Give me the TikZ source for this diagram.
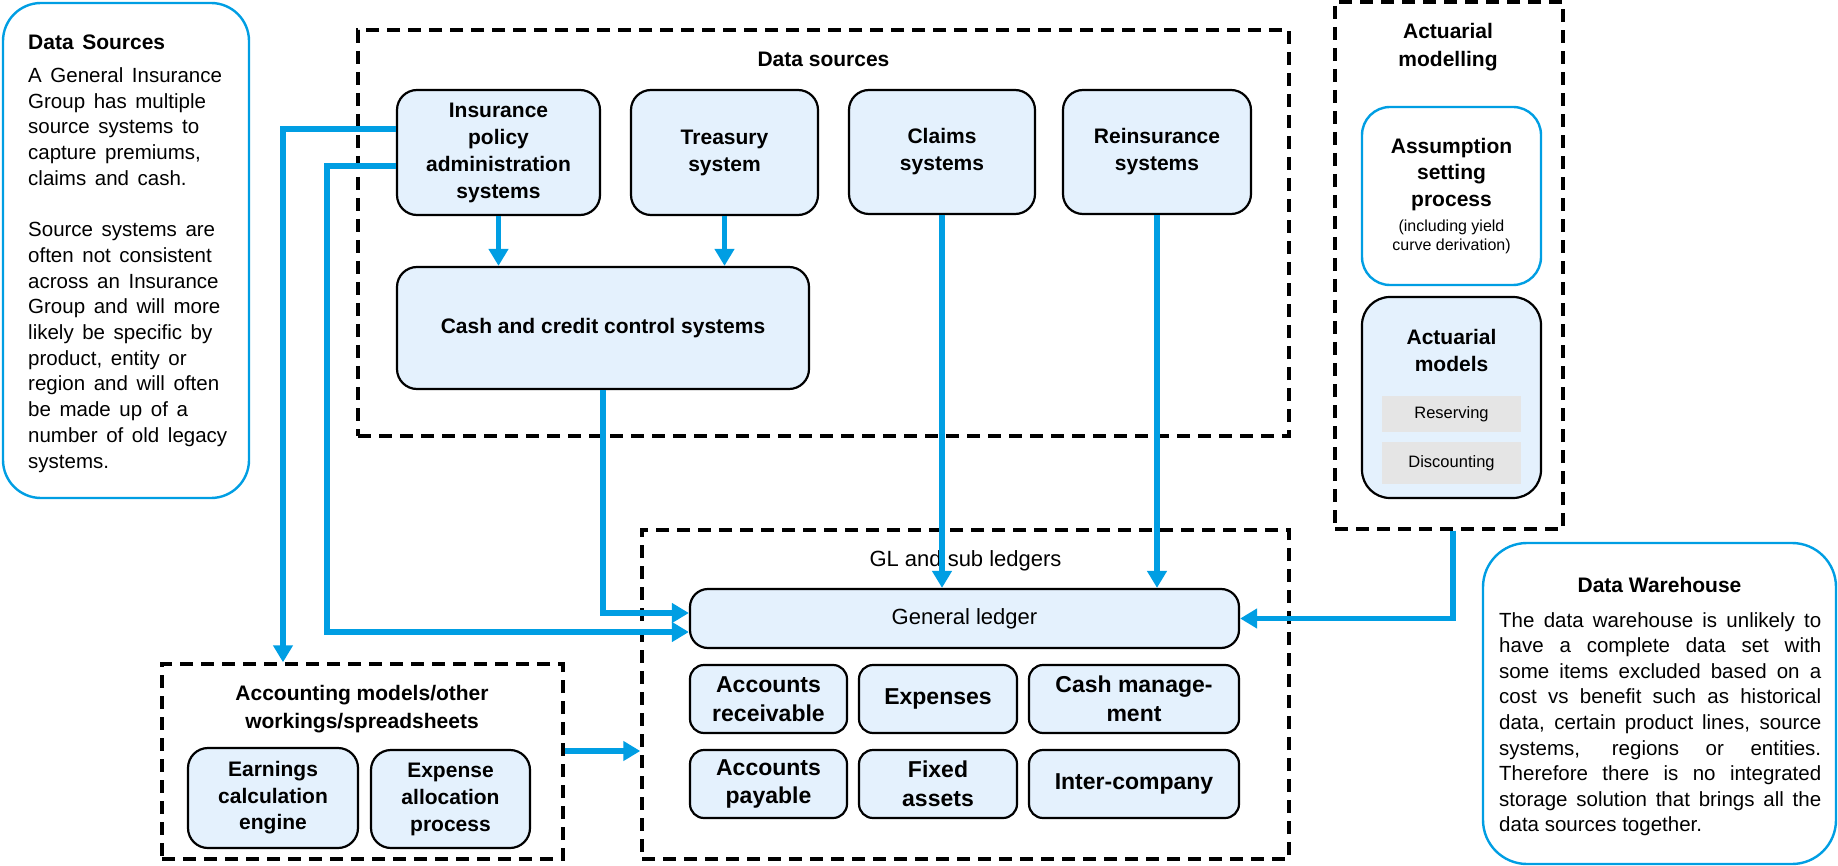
\documentclass[tikz,border=0pt]{standalone}
\usepackage{fontspec}
\setmainfont{Liberation Sans}
\usetikzlibrary{arrows.meta,calc}

\definecolor{flowblue}{RGB}{0,158,227}
\definecolor{boxfill}{RGB}{228,241,253}
\definecolor{tilegray}{RGB}{229,229,229}

% slightly wider word spaces for the note text
\newcommand\widewordspace{\spaceskip 0.42em\relax}

\tikzset{
  sysbox/.style={draw=black, line width=2.2pt, fill=boxfill, rounded corners=20pt,
    inner sep=0pt, align=center, font=\fontsize{21}{27}\selectfont\bfseries},
  ledgerbox/.style={sysbox, rounded corners=14pt, font=\fontsize{23}{28.5}\selectfont\bfseries},
  notebox/.style={draw=flowblue, line width=2.4pt, fill=white, rounded corners=38pt, inner sep=0pt},
  groupbox/.style={draw=black, line width=3.4pt, dash pattern=on 13pt off 8pt, inner sep=0pt},
  grouptitle/.style={font=\fontsize{21}{28}\selectfont\bfseries, align=center, inner sep=0pt},
  tile/.style={fill=tilegray, inner sep=0pt, font=\fontsize{16.5}{20}\selectfont},
  notetext/.style={inner sep=0pt, align=left,
    font=\fontsize{20.5}{25.7}\selectfont\widewordspace},
  flow/.style={draw=flowblue, line width=5.5pt, line join=miter,
    -{Triangle[length=17pt,width=19pt]}},
}

\begin{document}
\begin{tikzpicture}[x=1pt,y=-1pt]
\useasboundingbox (0,0) rectangle (1838,866);

% ---------- left note: data sources ----------
\node[notebox, minimum width=246pt, minimum height=495pt] (lnote) at (126,250.5) {};
\node[notetext, anchor=north west] (ltext) at (28,34.7) {%
  {\fontsize{21}{25.7}\selectfont\bfseries Data Sources}\\[7.3pt]
  A General Insurance\\
  Group has multiple\\
  source systems to\\
  capture premiums,\\
  claims and cash.\\[25.7pt]
  Source systems are\\
  often not consistent\\
  across an Insurance\\
  Group and will more\\
  likely be specific by\\
  product, entity or\\
  region and will often\\
  be made up of a\\
  number of old legacy\\
  systems.};

% ---------- data sources group ----------
\node[groupbox, minimum width=931pt, minimum height=406pt] (ds) at (823.5,233) {};
\node[grouptitle] (dst) at (823.5,59) {Data sources};
\node[sysbox, minimum width=203pt, minimum height=125pt] (ins) at (498.5,152.5)
  {Insurance\\policy\\administration\\systems};
\node[sysbox, minimum width=187pt, minimum height=125pt] (tre) at (724.5,152.5)
  {Treasury\\system};
\node[sysbox, minimum width=186pt, minimum height=124pt] (cla) at (942,152)
  {Claims\\systems};
\node[sysbox, minimum width=188pt, minimum height=124pt] (rei) at (1157,152)
  {Reinsurance\\systems};
\node[sysbox, minimum width=412pt, minimum height=122pt] (cash) at (603,328)
  {Cash and credit control systems};

% ---------- actuarial modelling group ----------
\node[groupbox, minimum width=228pt, minimum height=527pt] (am) at (1449,265.5) {};
\node[grouptitle] (amt) at (1448,47) {Actuarial\\modelling};
\node[notebox, rounded corners=28pt, minimum width=179pt, minimum height=178pt] (asm) at (1451.5,196) {};
\node[grouptitle, font=\fontsize{21}{26.5}\selectfont\bfseries] (asmt) at (1451.5,174.5)
  {Assumption\\setting\\process};
\node[inner sep=0pt, align=center, font=\fontsize{16}{19}\selectfont] (asms) at (1451.5,236.5)
  {(including yield\\curve derivation)};
\node[sysbox, rounded corners=28pt, minimum width=179pt, minimum height=201pt] (amod) at (1451.5,397.5) {};
\node[grouptitle, font=\fontsize{21}{27}\selectfont\bfseries] (amodt) at (1451.5,350.5)
  {Actuarial\\models};
\node[tile, minimum width=139pt, minimum height=36pt] (res) at (1451.5,414) {Reserving};
\node[tile, minimum width=139pt, minimum height=42pt] (disc) at (1451.5,463) {Discounting};

% ---------- GL and sub ledgers group ----------
\node[groupbox, minimum width=647pt, minimum height=329pt] (gld) at (965.5,694.5) {};
\node[inner sep=0pt, font=\fontsize{22}{26}\selectfont] (gldt) at (965.5,561) {GL and sub ledgers};
\node[sysbox, rounded corners=18pt, font=\fontsize{22}{26}\selectfont,
  minimum width=549pt, minimum height=59pt] (gl) at (964.5,618.5) {General ledger};
\node[ledgerbox, minimum width=157pt, minimum height=68pt] (ar) at (768.5,699) {Accounts\\receivable};
\node[ledgerbox, minimum width=158pt, minimum height=68pt] (exs) at (938,699) {Expenses};
\node[ledgerbox, minimum width=210pt, minimum height=68pt] (cm) at (1134,699) {Cash manage-\\ment};
\node[ledgerbox, minimum width=157pt, minimum height=68pt] (ap) at (768.5,784) {Accounts\\payable};
\node[ledgerbox, minimum width=158pt, minimum height=68pt] (fa) at (938,784) {Fixed\\assets};
\node[ledgerbox, minimum width=210pt, minimum height=68pt] (ic) at (1134,784) {Inter-company};

% ---------- accounting models group ----------
\node[groupbox, minimum width=401pt, minimum height=195pt] (acc) at (362.5,761.5) {};
\node[grouptitle] (acct) at (362,709) {Accounting models/other\\workings/spreadsheets};
\node[sysbox, minimum width=170pt, minimum height=100pt, font=\fontsize{21}{26.5}\selectfont\bfseries]
  (earn) at (273,798) {Earnings\\calculation\\engine};
\node[sysbox, minimum width=159pt, minimum height=98pt, font=\fontsize{21}{27}\selectfont\bfseries]
  (expa) at (450.5,799) {Expense\\allocation\\process};

% ---------- right note: data warehouse ----------
\node[notebox, rounded corners=44pt, minimum width=353pt, minimum height=321pt] (dw) at (1659.5,703.5) {};
\node[inner sep=0pt, font=\fontsize{21}{25}\selectfont\bfseries] (dwt) at (1659.5,585) {Data Warehouse};
\node[inner sep=0pt, align=left, anchor=north west, font=\fontsize{20.5}{25.6}\selectfont] (dwtext) at (1499,612) {%
  \makebox[322pt][s]{The data warehouse is unlikely to}\\
  \makebox[322pt][s]{have a complete data set with}\\
  \makebox[322pt][s]{some items excluded based on a}\\
  \makebox[322pt][s]{cost vs benefit such as historical}\\
  \makebox[322pt][s]{data, certain product lines, source}\\
  \makebox[322pt][s]{systems, regions or entities.}\\
  \makebox[322pt][s]{Therefore there is no integrated}\\
  \makebox[322pt][s]{storage solution that brings all the}\\
  \makebox[322pt][l]{data sources together.}};

% ---------- connectors ----------
\coordinate (bend2) at (327,632);
\draw[flow] ([yshift=23.5pt]ins.west) -| ([xshift=-79.5pt]acc.north);
\draw[flow] ([yshift=-13.5pt]ins.west) -| (bend2) -- ([yshift=-13.5pt]gl.west);
\draw[flow] (cash.south) |- ([yshift=5.5pt]gl.west);
\draw[flow] (ins.south) -- (ins.south |- cash.north);
\draw[flow] (tre.south) -- (tre.south |- cash.north);
\draw[flow] (cla.south) -- (cla.south |- gl.north);
\draw[flow] (rei.south) -- (rei.south |- gl.north);
\draw[flow] ([xshift=4pt]am.south) |- (gl.east);
\draw[flow] ([yshift=10.5pt]acc.east) -- ([yshift=10.5pt]acc.east -| gld.west);

\end{tikzpicture}
\end{document}
